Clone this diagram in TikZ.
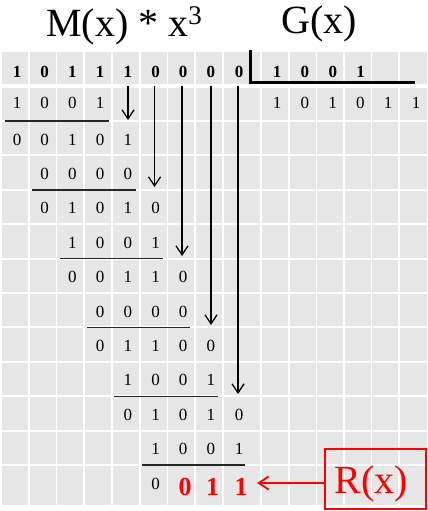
\documentclass[tikz,border=0pt]{standalone}
\usepackage{fontspec}
\setmainfont{Liberation Serif}
\usetikzlibrary{arrows.meta}
\definecolor{cellgray}{HTML}{E6E6E6}
\definecolor{rred}{HTML}{FF0000}
\begin{document}
\begin{tikzpicture}[x=1pt,y=-1pt,
  dig/.style={anchor=base, inner sep=0pt, font=\fontsize{17}{17}\selectfont},
  bdig/.style={anchor=base, inner sep=0pt, font=\fontsize{17}{17}\selectfont\bfseries},
  rdig/.style={anchor=base, inner sep=0pt, text=rred, font=\fontsize{26}{26}\selectfont\bfseries},
  titletext/.style={anchor=base west, inner sep=0pt, font=\fontsize{40}{40}\selectfont},
  bring/.style={line width=1.3pt, -{Straight Barb[length=9pt,width=12pt]}},
  redarrow/.style={draw=rred, line width=1.8pt, -{Straight Barb[length=10pt,width=13pt]}},
  uline/.style={line width=1.4pt, draw=black!85},
  divline/.style={line width=3pt, line join=miter},
]
\useasboundingbox (0,0) rectangle (428,511);
\fill[white] (0,0) rectangle (428,511);

% grid of cells
\foreach \xl/\xr in {2/28, 29.7/55.7, 57.4/83.4, 85.1/111.1, 112.8/138.8, 140.5/166.5, 168.2/194.2, 195.9/221.9, 224/260, 262/288, 289.6/315.6, 317.2/343.2, 344.8/370.8, 372.4/398.4, 400/427}
  \foreach \yt/\yb in {52.5/83.5, 87.5/120, 121.9/154.4, 156.3/188.8, 190.7/223.2, 225.1/257.6, 259.5/292, 293.9/326.4, 328.3/360.8, 362.7/395.2, 397.1/429.6, 431.5/464, 465.9/505}
    \fill[cellgray] (\xl,\yt) rectangle (\xr,\yb);

% titles
\node[titletext] (mx) at (46,36.7) {M(x) * x\raisebox{11.7pt}{\fontsize{27}{27}\selectfont 3}};
\node[titletext] (gx) at (281,33.5) {G(x)};

% dividend row
\foreach \d [count=\k from 0] in {1,0,1,1,1,0,0,0}
  \node[bdig] (r0c\k) at ({17+27.7*\k},77.5) {\d};
\node[bdig] (r0c8) at (239,77.5) {0};

% divisor
\foreach \d [count=\k from 0] in {1,0,0,1}
  \node[bdig] (g\k) at ({277+27.9*\k},77.5) {\d};
% quotient
\foreach \d [count=\k from 0] in {1,0,1,0,1,1}
  \node[dig] (q\k) at ({277+27.8*\k},108.5) {\d};

% division corner line
\coordinate (dtop) at (250,50);
\coordinate (dcorner) at (250,82.5);
\coordinate (dend) at (415,82.5);
\draw[divline] (dtop) -- (dcorner) -- (dend);

% working rows
\foreach \j/\s/\ds in {1/0/{1,0,0,1}, 2/0/{0,0,1,0,1}, 3/1/{0,0,0,0}, 4/1/{0,1,0,1,0}, 5/2/{1,0,0,1}, 6/2/{0,0,1,1,0}, 7/3/{0,0,0,0}, 8/3/{0,1,1,0,0}, 9/4/{1,0,0,1}, 10/4/{0,1,0,1,0}, 11/5/{1,0,0,1}, 12/5/{0}}
{
  \foreach \d [count=\k from \s] in \ds
    \node[dig] (n\j-\k) at ({\k<8 ? 17+27.7*\k : 239}, {\j==1 ? 108.5 : 145+34.4*(\j-2)}) {\d};
}

% remainder (red)
\node[rdig] (rem0) at (185,495) {0};
\node[rdig] (rem1) at (212.5,495) {1};
\node[rdig] (rem2) at (241,495) {1};

% underlines
\foreach \k in {0,...,5}
  \draw[uline] ({5+27.3*\k},{121+68.8*\k}) -- ({108.5+27.3*\k},{121+68.8*\k});

% bring-down arrows
\foreach \i/\x/\t in {1/128/120, 2/154.5/187, 3/182/256, 4/211/325, 5/238/394}
{
  \coordinate (bs\i) at (\x,86);
  \coordinate (bt\i) at (\x,\t);
  \draw[bring] (bs\i) -- (bt\i);
}

% R(x) box and arrow
\node[draw=rred, line width=2pt, minimum width=101pt, minimum height=60pt, inner sep=0pt] (rxbox) at (375.5,479) {};
\node[titletext, text=rred] (rx) at (334.5,493) {R(x)};
\coordinate (rtip) at (257,483);
\draw[redarrow] ([yshift=-4pt]rxbox.west) -- (rtip);
\end{tikzpicture}
\end{document}
